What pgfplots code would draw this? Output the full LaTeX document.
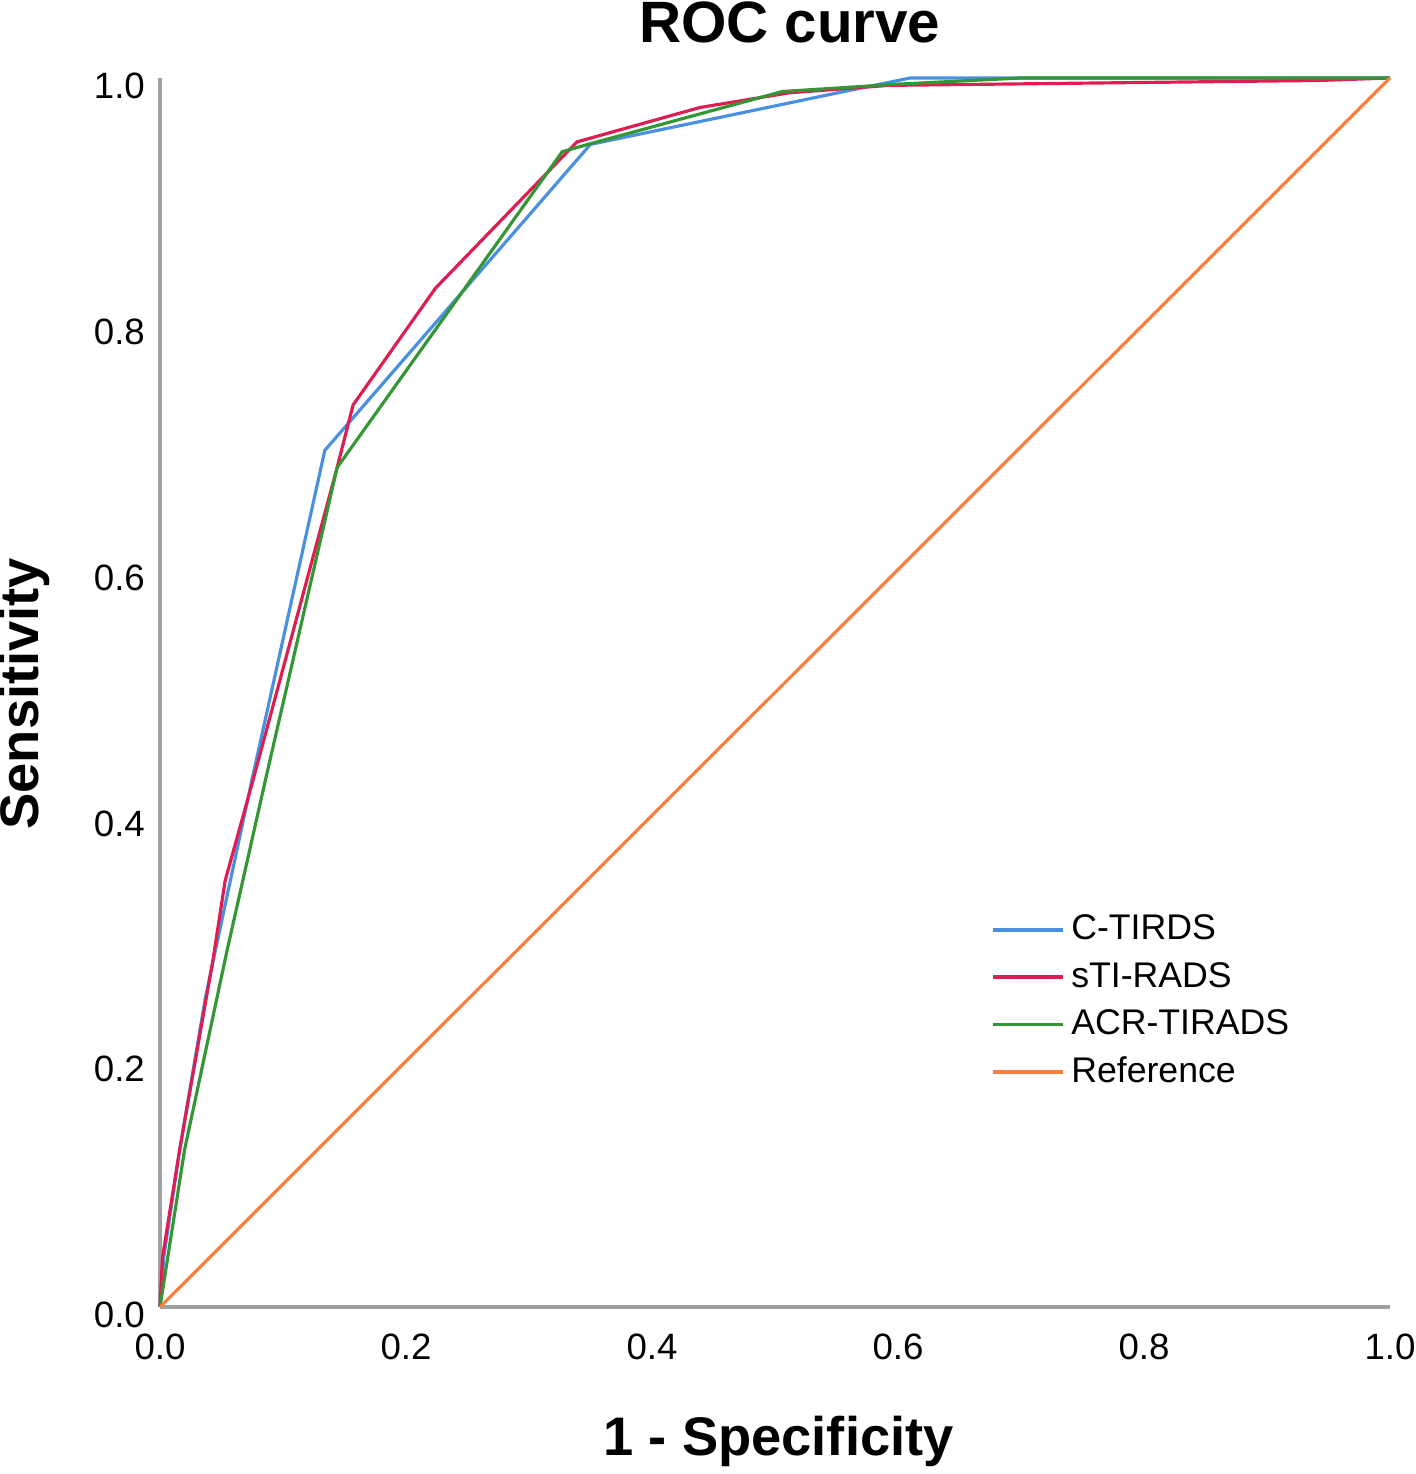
\documentclass[border=0pt]{standalone}
\usepackage{pgfplots}
\pgfplotsset{compat=1.18}
\usepackage{fontspec}
\setmainfont{Liberation Sans}
\setsansfont{Liberation Sans}
\definecolor{cblue}{RGB}{74,144,226}
\definecolor{cred}{RGB}{222,30,82}
\definecolor{cgreen}{RGB}{52,150,52}
\definecolor{corange}{RGB}{255,125,60}
\definecolor{caxis}{RGB}{160,160,160}
\begin{document}
\begin{tikzpicture}
\useasboundingbox (-48pt,-50.1pt) rectangle (376.8pt,392.1pt);
\begin{axis}[
  at={(0,0)}, anchor=south west,
  scale only axis, width=369pt, height=368.7pt,
  xmin=0, xmax=1, ymin=0, ymax=1,
  clip=false,
  axis x line=bottom, axis y line=left,
  axis line style={-, draw=caxis, line width=1.2pt},
  major tick length=0pt,
  xtick={0,0.2,0.4,0.6,0.8,1.0}, ytick={0,0.2,0.4,0.6,0.8,1.0},
  /pgf/number format/assume math mode=true,
  /pgf/number format/fixed,
  /pgf/number format/fixed zerofill,
  /pgf/number format/precision=1,
  every tick label/.append style={font=\fontsize{11}{13}\selectfont, text=black},
  xticklabel style={yshift=-4.5pt},
  yticklabel style={xshift=-1pt, yshift=-2.4pt},
  title={\textbf{ROC curve}},
  title style={font=\fontsize{17.5}{20}\selectfont, at={(axis description cs:0.512,1.0293)}, anchor=center},
  xlabel={\textbf{1 - Specificity}},
  xlabel style={font=\fontsize{16.3}{19}\selectfont, at={(axis description cs:0.503,-0.109)}, anchor=center},
  ylabel={\textbf{Sensitivity}},
  ylabel style={font=\fontsize{16.3}{19}\selectfont, at={(axis description cs:-0.1098,0.499)}, anchor=center},
  legend style={at={(axis description cs:0.675,0.325)}, anchor=north west, draw=none, fill=none,
    font=\fontsize{10.7}{14.1}\selectfont, inner sep=0pt, row sep=1.2pt},
  legend cell align=left,
  legend image code/.code={\draw[#1, line width=1.1pt] (0pt,0pt) -- (21pt,0pt);},
  every axis plot/.append style={line width=0.95pt},
]
\addplot[cblue] coordinates {
(0,0) (0.003,0.04) (0.016,0.128) (0.037,0.252) (0.045,0.29) (0.075,0.43)
(0.134,0.697) (0.350,0.946) (0.561,0.990) (0.610,1.0) (1,1)};
\addlegendentry{C-TIRDS}
\addplot[cred] coordinates {
(0,0) (0.002,0.04) (0.016,0.128) (0.043,0.282) (0.053,0.347) (0.076,0.43)
(0.144,0.683) (0.157,0.734) (0.224,0.829) (0.339,0.948) (0.439,0.976)
(0.512,0.988) (0.593,0.994) (0.943,0.998) (1,1)};
\addlegendentry{sTI-RADS}
\addplot[cgreen] coordinates {
(0,0) (0.020,0.128) (0.0545,0.29) (0.086,0.43) (0.144,0.683) (0.327,0.940)
(0.348,0.946) (0.506,0.989) (0.600,0.995) (0.700,1.0) (1,1)};
\addlegendentry{ACR-TIRADS}
\addplot[corange] coordinates {(0,0) (1,1)};
\addlegendentry{Reference}
\end{axis}
\end{tikzpicture}
\end{document}
